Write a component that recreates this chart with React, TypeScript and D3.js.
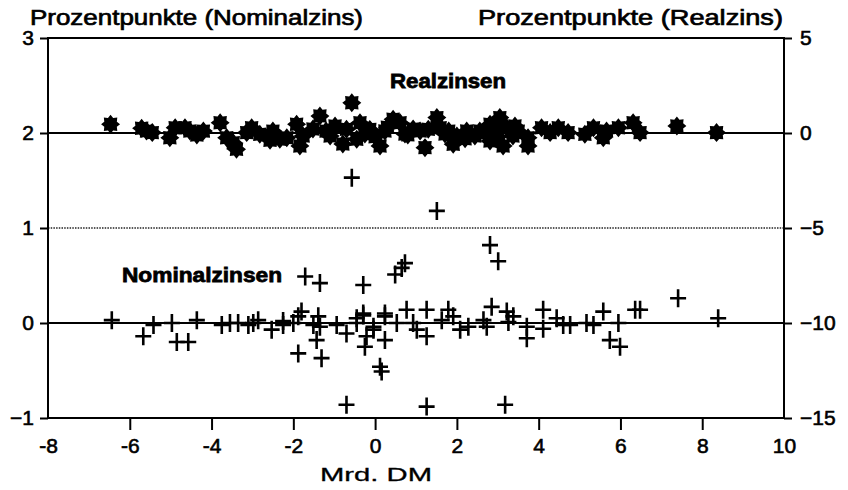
import React, { useEffect, useRef } from 'react';
import * as d3 from 'd3';

// x: Mrd. DM, y: Prozentpunkte
const xTicks = [-8, -6, -4, -2, 0, 2, 4, 6, 8, 10];
const nomTicks = [-1, 0, 1, 2, 3];
const realTicks = [-15, -10, -5, 0, 5];

// Realzinsen (right axis)
const realX = [-6.47, -5.71, -5.59, -5.45, -5.02, -4.89, -4.65, -4.53, -4.36, -3.79, -3.63, -3.47, -3.39, -3.14, -3.02, -2.82, -2.57, -2.33, -2.16, -1.92, -1.76, -1.84, -1.35, -1.52, -0.98, -0.79, -0.57, -0.37, -0.45, -0.13, 0.12, 0.44, 0.61, 0.93, 1.22, 1.51, 1.59, 2.0, 1.91, 2.24, 2.44, 2.81, 3.05, 3.22, 2.81, 3.13, 3.37, 3.74, 3.74, 4.07, 4.28, 4.48, 4.72, 5.13, 5.34, 5.58, 5.66, 5.95, 6.31, 6.48, 7.38, 8.35, -1.1, -0.25, 0.24, 0.73, 1.1, 1.71, 2.56, 2.93, 3.42, -1.2, -0.7, 0.0, 0.3, 0.8, 1.3, 1.8, 2.2, 2.7, 3.0, 3.5, -2.5, -4.2];
const realY = [0.46, 0.25, 0.11, 0.02, -0.25, 0.28, 0.28, 0.11, -0.11, 0.54, -0.25, -0.51, -0.86, 0.02, 0.28, -0.07, -0.38, -0.33, -0.25, 0.46, -0.16, -0.68, 0.89, 0.21, 0.37, -0.58, 1.59, 0.54, -0.33, 0.19, -0.68, 0.72, 0.54, 0.21, -0.77, 0.81, 0.28, -0.16, -0.59, 0.11, -0.16, 0.46, 0.81, 0.28, -0.42, -0.68, -0.16, -0.25, -0.68, 0.28, 0.02, 0.28, 0.02, -0.07, 0.28, -0.25, 0.11, 0.28, 0.54, 0.02, 0.37, 0.02, -0.16, -0.05, 0.11, -0.05, 0.11, -0.05, 0.11, 0.21, 0.37, 0.1, 0.2, -0.2, 0.3, -0.1, 0.2, 0.1, -0.3, 0.0, -0.2, 0.1, 0.1, 0.1];

// Nominalzinsen (left axis)
const nomX = [-6.44, -5.67, -5.42, -4.97, -4.85, -4.57, -4.36, -3.75, -3.55, -3.35, -3.1, -2.98, -2.86, -2.53, -2.25, -2.0, -1.88, -1.8, -1.71, -1.35, -1.88, -1.31, -1.43, -1.51, -1.35, -0.94, -0.7, -0.29, -0.7, -0.45, -0.29, -0.21, -0.25, -0.04, 0.12, 0.16, 0.24, 0.24, 0.49, 0.73, 0.65, 0.77, 1.26, 1.26, 1.26, 1.02, 0.53, 0.93, 2.81, 3.01, 3.18, 1.79, 1.91, 1.63, 2.08, 2.28, 2.65, 2.85, 2.73, 3.22, 3.26, 3.38, 3.71, 3.71, 4.11, 4.11, 4.44, 4.6, 4.77, 5.17, 5.34, 5.58, 5.74, 5.99, 5.95, 6.36, 6.48, 7.41, 8.39, -0.57, 1.51, -1.39, -0.45, -0.29, 0.24, -2.25, -0.04];
const nomY = [0.03, -0.14, -0.02, 0, -0.2, -0.2, 0.03, -0.02, 0, 0, -0.02, 0, 0.03, -0.07, -0.02, 0, 0.07, 0.12, 0.49, 0.42, -0.32, -0.37, -0.18, -0.02, -0.04, -0.02, -0.11, 0.4, -0.86, 0, 0.08, -0.14, -0.25, -0.07, -0.46, -0.51, 0.07, -0.18, 0.51, 0.63, 0.58, 0.14, 0.14, -0.14, -0.88, -0.07, 0, 0, 0.82, 0.65, -0.86, 0.14, 0.07, 0.03, -0.07, -0.04, 0.03, 0.17, -0.04, 0.12, 0.01, 0.07, -0.16, -0.04, 0.14, -0.06, 0.05, -0.02, -0.02, 0, -0.02, 0.12, -0.18, -0.25, 0, 0.14, 0.14, 0.26, 0.05, 1.53, 1.18, 0.07, 0.05, 0.1, 0.1, 0.02, -0.04];

const W = 848;
const H = 490;
const FONT = '"Liberation Sans", Arial, sans-serif';

const App: React.FC = () => {
  const ref = useRef<SVGSVGElement | null>(null);

  useEffect(() => {
    const svg = d3.select(ref.current);
    svg.selectAll('*').remove();

    const x = d3.scaleLinear().domain([-8, 10]).range([48, 784]);
    const yN = d3.scaleLinear().domain([-1, 3]).range([418, 38]);
    const yR = d3.scaleLinear().domain([-15, 5]).range([418, 38]);

    // reference lines
    svg.append('line')
      .attr('x1', x(-8)).attr('x2', x(10))
      .attr('y1', yN(1)).attr('y2', yN(1))
      .attr('stroke', '#222').attr('stroke-width', 1.4)
      .attr('stroke-dasharray', '1.5,1.2');
    [yN(2), yN(0)].forEach((yy) => {
      svg.append('line')
        .attr('x1', x(-8)).attr('x2', x(10))
        .attr('y1', yy).attr('y2', yy)
        .attr('stroke', '#000').attr('stroke-width', 2);
    });

    // frame
    svg.append('rect')
      .attr('x', x(-8)).attr('y', yN(3))
      .attr('width', x(10) - x(-8)).attr('height', yN(-1) - yN(3))
      .attr('fill', 'none').attr('stroke', '#000').attr('stroke-width', 2);

    const styleAxis = (g: d3.Selection<SVGGElement, unknown, null, undefined>) => {
      g.select('.domain').remove();
      g.selectAll('line').attr('stroke', '#000').attr('stroke-width', 2);
      g.selectAll('text')
        .attr('fill', '#000')
        .attr('stroke', '#000')
        .attr('stroke-width', 0.6)
        .style('font-family', FONT)
        .style('font-size', '21px');
    };

    svg.append('g')
      .attr('transform', `translate(${x(-8)},0)`)
      .call(d3.axisLeft(yN).tickValues(nomTicks).tickSize(8).tickPadding(6).tickFormat(d3.format('d')))
      .call(styleAxis);

    svg.append('g')
      .attr('transform', `translate(${x(10)},0)`)
      .call(d3.axisRight(yR).tickValues(realTicks).tickSize(8).tickPadding(8).tickFormat(d3.format('d')))
      .call(styleAxis);

    const xa = svg.append('g')
      .attr('transform', `translate(0,${yN(-1)})`)
      .call(d3.axisBottom(x).tickValues(xTicks).tickSize(12).tickPadding(8).tickFormat(d3.format('d')))
      .call(styleAxis);
    xa.selectAll('.tick')
      .filter((d) => d === -8 || d === 10)
      .select('line').remove();
    xa.selectAll('text').text((d) => `${d}`);

    // stars (Realzinsen)
    const star = (() => {
      const pts: [number, number][] = d3.range(16).map((i) => {
        const a = (i * Math.PI) / 8 - Math.PI / 2;
        const r = i % 2 === 0 ? 9.5 : 6.8;
        return [r * Math.cos(a), r * Math.sin(a)];
      });
      return 'M' + pts.map((p) => p.join(',')).join('L') + 'Z';
    })();
    svg.append('g')
      .selectAll('path')
      .data(d3.range(realX.length))
      .enter()
      .append('path')
      .attr('d', star)
      .attr('transform', (i) => `translate(${x(realX[i])},${yR(realY[i])})`)
      .attr('fill', '#000');

    // pluses (Nominalzinsen)
    svg.append('g')
      .selectAll('path')
      .data(d3.range(nomX.length))
      .enter()
      .append('path')
      .attr('d', 'M-8,0H8M0,-9V9')
      .attr('transform', (i) => `translate(${x(nomX[i])},${yN(nomY[i])})`)
      .attr('stroke', '#000')
      .attr('stroke-width', 2.6)
      .attr('fill', 'none');

    const txt = (t: string, xx: number, yy: number, size: number, len: number, anchor: string, weight: string, sw: number) =>
      svg.append('text')
        .attr('x', xx).attr('y', yy)
        .attr('text-anchor', anchor)
        .attr('textLength', len)
        .attr('lengthAdjust', 'spacingAndGlyphs')
        .attr('stroke', '#000')
        .attr('stroke-width', sw)
        .style('font-family', FONT)
        .style('font-size', `${size}px`)
        .style('font-weight', weight)
        .text(t);

    txt('Prozentpunkte (Nominalzins)', 30, 25, 22, 333, 'start', '400', 0.7);
    txt('Prozentpunkte (Realzins)', 783, 25, 22, 305, 'end', '400', 0.7);
    txt('Realzinsen', 390, 88, 21, 116, 'start', '700', 0.8);
    txt('Nominalzinsen', 122, 282, 21, 160, 'start', '700', 0.8);
    txt('Mrd. DM', 376, 481, 19, 112, 'middle', '400', 0.3);
  }, []);

  return (
    <svg
      ref={ref}
      width={W}
      height={H}
      style={{ position: 'absolute', left: 0, top: 0, background: '#fff' }}
    />
  );
};

export default App;
